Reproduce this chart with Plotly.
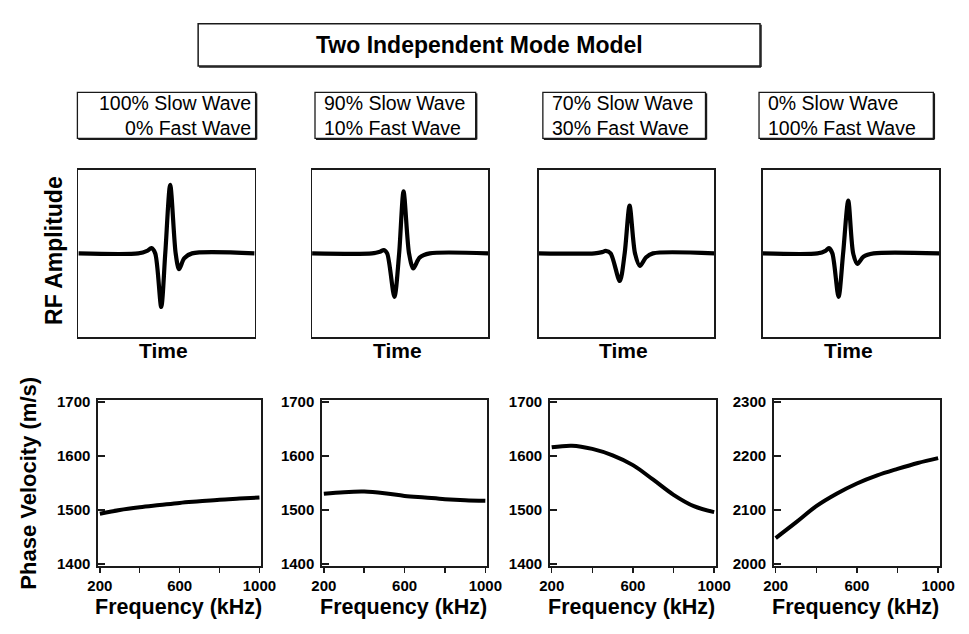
import plotly.graph_objects as go

# page is 969x634; the browser body keeps its default 8px margin,
# so the figure itself is 953x618 placed at (8, 8)
PAGE_W, PAGE_H = 969, 634
OFF = 8
W, H = PAGE_W - 2 * OFF, PAGE_H - 2 * OFF

# ---------------- data ----------------
title_text = "Two Independent Mode Model"
slow_labels = ["100% Slow Wave", "90% Slow Wave", "70% Slow Wave", "0% Slow Wave"]
fast_labels = ["0% Fast Wave", "10% Fast Wave", "30% Fast Wave", "100% Fast Wave"]

# RF waveforms: normalized time (0..1) and normalized amplitude (-1..1)
t_100 = [0.0, 0.34, 0.39, 0.414, 0.436, 0.47, 0.493, 0.521, 0.552, 0.571, 0.60, 0.645, 1.0]
a_100 = [0.0, 0.0, 0.03, 0.062, 0.0, -0.64, 0.0, 0.82, 0.0, -0.19, -0.06, 0.0, 0.0]

t_90 = [0.0, 0.34, 0.385, 0.407, 0.426, 0.467, 0.494, 0.519, 0.55, 0.574, 0.61, 0.667, 1.0]
a_90 = [0.0, 0.0, 0.02, 0.04, 0.0, -0.52, 0.0, 0.74, 0.0, -0.18, -0.05, 0.0, 0.0]

t_70 = [0.0, 0.317, 0.36, 0.381, 0.409, 0.461, 0.489, 0.517, 0.548, 0.576, 0.61, 0.65, 1.0]
a_70 = [0.0, 0.0, 0.015, 0.03, 0.0, -0.33, 0.0, 0.57, 0.0, -0.15, -0.05, 0.0, 0.0]

t_0 = [0.0, 0.31, 0.355, 0.374, 0.394, 0.429, 0.455, 0.484, 0.512, 0.536, 0.57, 0.628, 1.0]
a_0 = [0.0, 0.0, 0.03, 0.062, 0.0, -0.52, 0.0, 0.63, 0.0, -0.125, -0.04, 0.0, 0.0]

# Phase velocity vs frequency
freq_khz = [200, 300, 400, 500, 600, 700, 800, 900, 1000]
v_100 = [1493, 1500, 1505, 1509, 1513, 1516, 1519, 1521, 1523]
v_90 = [1530, 1533, 1534, 1531, 1526, 1523, 1520, 1518, 1517]
v_70 = [1616, 1619, 1613, 1601, 1583, 1556, 1528, 1507, 1496]
v_0 = [2048, 2077, 2107, 2130, 2149, 2164, 2176, 2187, 2196]

x_ticks = [200, 400, 600, 800, 1000]
x_ticktext = ["200", "", "600", "", "1000"]
y_ticks_low = [1400, 1500, 1600, 1700]
y_ticks_high = [2000, 2100, 2200, 2300]

# ---------------- layout geometry (page pixels) ----------------
top_x = [(70, 251), (310, 491), (543, 723), (773, 954)]
top_y = (166, 337)
bot_x = [(90, 258), (320, 490), (554, 725), (784, 955)]
bot_y = (401, 571)
legend_x = [(69, 252), (313, 478), (547, 714), (769, 948)]
legend_y = (87, 134)
title_box = (193, 17, 770, 60)


def px(x):
    return (x - OFF) / W


def py(y):
    return 1 - (y - OFF) / H


FONT = "Liberation Sans, Arial, Helvetica, sans-serif"
LINE = "#1a1a1a"

fig = go.Figure()

waves = [(t_100, a_100), (t_90, a_90), (t_70, a_70), (t_0, a_0)]
vels = [v_100, v_90, v_70, v_0]

layout = {}
for i in range(4):
    ti = i + 1
    bi = i + 5
    tx = "x" if ti == 1 else f"x{ti}"
    ty = "y" if ti == 1 else f"y{ti}"
    bx, by = f"x{bi}", f"y{bi}"
    t, a = waves[i]
    fig.add_trace(go.Scatter(x=t, y=a, mode="lines", xaxis=tx, yaxis=ty,
                             line=dict(color="black", width=4.2, shape="spline", smoothing=0.8),
                             showlegend=False, hoverinfo="skip"))
    fig.add_trace(go.Scatter(x=freq_khz, y=vels[i], mode="lines", xaxis=bx, yaxis=by,
                             line=dict(color="black", width=4, shape="spline", smoothing=1.0),
                             showlegend=False, hoverinfo="skip"))

    xa_t = "xaxis" if ti == 1 else f"xaxis{ti}"
    ya_t = "yaxis" if ti == 1 else f"yaxis{ti}"
    layout[xa_t] = dict(domain=[px(top_x[i][0]), px(top_x[i][1])], range=[0, 1],
                        anchor=ty, showline=True, mirror=True, linecolor=LINE, linewidth=1.5,
                        showticklabels=False, ticks="", showgrid=False, zeroline=False, fixedrange=True)
    layout[ya_t] = dict(domain=[py(top_y[1]), py(top_y[0])], range=[-1, 1],
                        anchor=tx, showline=True, mirror=True, linecolor=LINE, linewidth=1.5,
                        showticklabels=False, ticks="", showgrid=False, zeroline=False, fixedrange=True)

    high = (i == 3)
    yt = y_ticks_high if high else y_ticks_low
    yr = [1996, 2304] if high else [1396, 1704]
    layout[f"xaxis{bi}"] = dict(domain=[px(bot_x[i][0]), px(bot_x[i][1])], range=[190, 1010],
                                anchor=by, showline=True, mirror=True, linecolor=LINE, linewidth=1.5,
                                tickvals=x_ticks, ticktext=x_ticktext, ticks="outside", ticklen=5,
                                tickwidth=1.5, tickcolor=LINE,
                                tickfont=dict(family=FONT, size=15, color="black", weight="bold"),
                                showgrid=False, zeroline=False, fixedrange=True)
    layout[f"yaxis{bi}"] = dict(domain=[py(bot_y[1]), py(bot_y[0])], range=yr,
                                anchor=bx, showline=True, mirror=True, linecolor=LINE, linewidth=1.5,
                                tickvals=yt, ticks="inside", ticklen=7, tickwidth=1.5, tickcolor=LINE,
                                ticklabelstandoff=3,
                                tickfont=dict(family=FONT, size=15, color="black", weight="bold"),
                                showgrid=False, zeroline=False, fixedrange=True)

annotations = []
shapes = []

# Title box
x0, y0, x1, y1 = title_box
shapes.append(dict(type="rect", xref="paper", yref="paper", x0=px(x0), x1=px(x1), y0=py(y1), y1=py(y0),
                   line=dict(color=LINE, width=1.5), fillcolor="white", layer="below"))
shapes.append(dict(type="line", xref="paper", yref="paper", x0=px(x0 + 1), x1=px(x1 + 1), y0=py(y1 + 1), y1=py(y1 + 1),
                   line=dict(color=LINE, width=1.5)))
shapes.append(dict(type="line", xref="paper", yref="paper", x0=px(x1 + 1), x1=px(x1 + 1), y0=py(y0 + 1), y1=py(y1 + 1),
                   line=dict(color=LINE, width=1.5)))
annotations.append(dict(text=title_text, x=px((x0 + x1) / 2), y=py((y0 + y1) / 2), xref="paper", yref="paper",
                        showarrow=False, xanchor="center", yanchor="middle",
                        font=dict(family=FONT, size=23, color="black", weight="bold")))

# Legend boxes
for i in range(4):
    lx0, lx1 = legend_x[i]
    ly0, ly1 = legend_y
    shapes.append(dict(type="rect", xref="paper", yref="paper", x0=px(lx0), x1=px(lx1), y0=py(ly1), y1=py(ly0),
                       line=dict(color=LINE, width=1.3)))
    shapes.append(dict(type="line", xref="paper", yref="paper", x0=px(lx0 + 1), x1=px(lx1 + 1), y0=py(ly1 + 1), y1=py(ly1 + 1),
                       line=dict(color=LINE, width=1.5)))
    shapes.append(dict(type="line", xref="paper", yref="paper", x0=px(lx1 + 1), x1=px(lx1 + 1), y0=py(ly0 + 1), y1=py(ly1 + 1),
                       line=dict(color=LINE, width=1.5)))
    if i == 0:
        xa, anch, al = px(lx1 - 3), "right", "right"
    else:
        xa, anch, al = px(lx0 + 7), "left", "left"
    annotations.append(dict(text=slow_labels[i] + "<br>" + fast_labels[i], x=xa, y=py((ly0 + ly1) / 2 + 0.5),
                            xref="paper", yref="paper", showarrow=False, align=al,
                            xanchor=anch, yanchor="middle", font=dict(family=FONT, size=19.5, color="black")))
    annotations.append(dict(text="Time", x=px((top_x[i][0] + top_x[i][1]) / 2 - 3), y=py(351), xref="paper", yref="paper",
                            showarrow=False, xanchor="center", yanchor="middle",
                            font=dict(family=FONT, size=21, color="black", weight="bold")))
    annotations.append(dict(text="Frequency (kHz)", x=px((bot_x[i][0] + bot_x[i][1]) / 2 - 1), y=py(613), xref="paper", yref="paper",
                            showarrow=False, xanchor="center", yanchor="middle",
                            font=dict(family=FONT, size=21.5, color="black", weight="bold")))

annotations.append(dict(text="RF Amplitude", x=px(45), y=py(249), xref="paper", yref="paper", showarrow=False,
                        textangle=-90, xanchor="center", yanchor="middle",
                        font=dict(family=FONT, size=23, color="black", weight="bold")))
annotations.append(dict(text="Phase Velocity (m/s)", x=px(19), y=py(486), xref="paper", yref="paper", showarrow=False,
                        textangle=-90, xanchor="center", yanchor="middle",
                        font=dict(family=FONT, size=22, color="black", weight="bold")))

fig.update_layout(width=W, height=H, margin=dict(l=0, r=0, t=0, b=0),
                  paper_bgcolor="white", plot_bgcolor="white",
                  annotations=annotations, shapes=shapes, showlegend=False, **layout)

fig.write_html("out.html", config={"displayModeBar": False, "staticPlot": True})
